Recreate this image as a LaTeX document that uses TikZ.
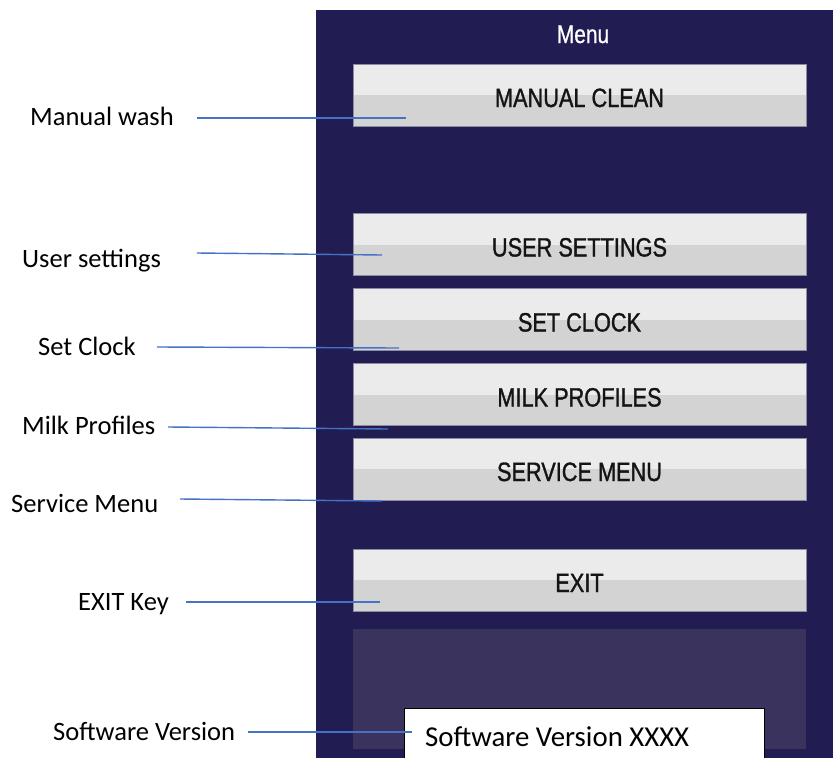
\documentclass[tikz,border=0pt]{standalone}
\usepackage{fontspec}
\setmainfont{Carlito}
\newfontfamily\btnfont[FakeStretch=0.82,FakeBold=1.2]{Liberation Sans}
\newfontfamily\menufont[FakeStretch=0.82,FakeBold=0.6]{Liberation Sans}
\usetikzlibrary{calc}
\definecolor{navy}{RGB}{33,29,82}
\definecolor{lowpanel}{RGB}{58,51,94}
\definecolor{btnlight}{RGB}{235,235,235}
\definecolor{btndark}{RGB}{211,211,211}
\definecolor{btnedge}{RGB}{140,140,160}
\definecolor{leader}{RGB}{68,114,196}
\definecolor{btntxt}{RGB}{20,20,20}
\begin{document}
\begin{tikzpicture}[x=1pt,y=-1pt,
  btn/.style={rectangle, minimum width=453pt, minimum height=62pt, inner sep=0pt,
    fill=btndark, draw=btnedge, line width=0.6pt,
    path picture={\fill[btnlight] (path picture bounding box.north west) rectangle (path picture bounding box.east);}},
  btntext/.style={anchor=base, inner sep=0pt, text=btntxt, font=\btnfont\fontsize{26.5}{30}\selectfont},
  lbl/.style={anchor=base west, inner sep=0pt, font=\fontsize{26.5}{31}\selectfont},
  leaderline/.style={draw=leader, line width=1.4pt}
]
\useasboundingbox (0,0) rectangle (833,758);
% panel
\fill[navy] (316,10) rectangle (833,758);
\fill[lowpanel] (353,629) rectangle (806,749);
\node[anchor=base, inner sep=0pt, text=white, font=\menufont\fontsize{25.5}{28}\selectfont] (menu) at (583,43) {Menu};

% buttons
\node[btn] (bmc) at (579.5,95) {};
\node[btn] (bus) at (579.5,244.5) {};
\node[btn] (bsc) at (579.5,319.5) {};
\node[btn] (bmp) at (579.5,394.5) {};
\node[btn] (bsm) at (579.5,469) {};
\node[btn] (bex) at (579.5,580) {};
\node[btntext] (tmc) at ($(bmc.center)+(0,12)$) {MANUAL CLEAN};
\node[btntext] (tus) at ($(bus.center)+(0,12)$) {USER SETTINGS};
\node[btntext] (tsc) at ($(bsc.center)+(0,12)$) {SET CLOCK};
\node[btntext] (tmp) at ($(bmp.center)+(0,12)$) {MILK PROFILES};
\node[btntext] (tsm) at ($(bsm.center)+(0,12)$) {SERVICE MENU};
\node[btntext] (tex) at ($(bex.center)+(0,12)$) {EXIT};

% software version box
\node[rectangle, fill=white, draw=black, line width=1pt, minimum width=360pt, minimum height=54pt, inner sep=0pt, anchor=north west] (svbox) at (404,708) {};
\node[anchor=base west, inner sep=0pt, font=\fontsize{28.8}{34}\selectfont] (svtext) at (425,746) {Software Version XXXX};

% left labels
\node[lbl] (lmw) at (30,125) {Manual wash};
\node[lbl] (lus) at (22,267) {User settings};
\node[lbl] (lsc) at (38,355) {Set Clock};
\node[lbl] (lmp) at (22,434) {Milk Profiles};
\node[lbl] (lsm) at (11,512) {Service Menu};
\node[lbl] (lek) at (78,610) {EXIT Key};
\node[lbl] (lsv) at (53,740) {Software Version};

% leader coordinates
\coordinate (mw1) at (197,118); \coordinate (mw2) at (406,118);
\coordinate (us1) at (197,253); \coordinate (us2) at (382,255);
\coordinate (sc1) at (157,347); \coordinate (sc2) at (399,348);
\coordinate (mp1) at (168,427); \coordinate (mp2) at (388,429);
\coordinate (sm1) at (180,499); \coordinate (sm2) at (382,501);
\coordinate (ek1) at (186,602); \coordinate (ek2) at (380,602);
\coordinate (sv1) at (248,732); \coordinate (sv2) at (412,732);

\draw[leaderline] (mw1) -- (mw2);
\draw[leaderline] (us1) -- (us2);
\draw[leaderline] (sc1) -- (sc2);
\draw[leaderline] (mp1) -- (mp2);
\draw[leaderline] (sm1) -- (sm2);
\draw[leaderline] (ek1) -- (ek2);
\draw[leaderline] (sv1) -- (sv2);
\end{tikzpicture}
\end{document}
